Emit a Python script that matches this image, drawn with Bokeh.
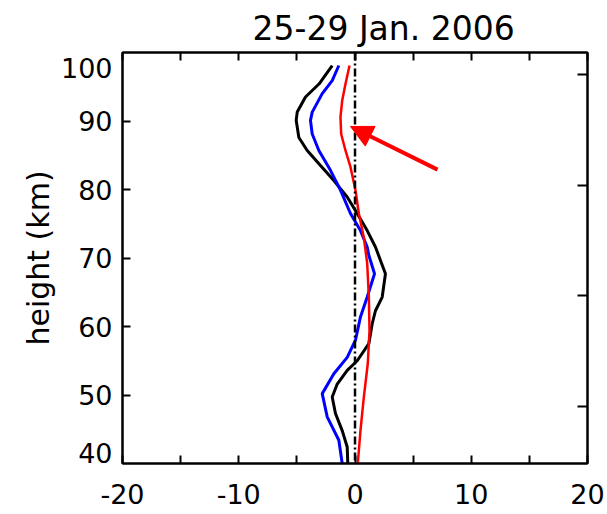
from bokeh.plotting import figure
from bokeh.models import Range1d, LinearAxis, FixedTicker, Span, Arrow, NormalHead, Title
from bokeh.embed import file_html
from bokeh.resources import INLINE

TITLE = "25-29 Jan. 2006"
Y_LABEL = "height (km)"

x_ticks = [-20, -15, -10, -5, 0, 5, 10, 15, 20]
x_tick_labels = {-20: "-20", -15: "", -10: "-10", -5: "", 0: "0", 5: "", 10: "10", 15: "", 20: "20"}
y_ticks = [50, 60, 70, 80, 90]
# label positions: end labels pulled inside the frame, as in the reference
y_label_pos = [41.5, 50, 60, 70, 80, 90, 97.8]
y_label_text = {41.5: "40", 50: "50", 60: "60", 70: "70", 80: "80", 90: "90", 97.8: "100"}
right_ticks = [48.3, 64.5, 80.6, 96.8]

black_h = [98.1, 95.4, 93.5, 91.3, 90.1, 87.6, 85.7, 83.5, 81.3, 78.9, 76.5, 74.0, 71.6,
           67.7, 64.3, 62.3, 60.4, 57.5, 55.0, 53.6, 51.6, 49.7, 47.3, 44.8, 42.4, 40.0]
black_x = [-1.96, -3.1, -4.26, -4.97, -5.06, -4.83, -4.11, -2.97, -1.82, -0.67, 0.19, 1.05, 1.76,
           2.62, 2.34, 1.76, 1.48, 1.19, 0.19, -0.67, -1.53, -1.96, -1.68, -1.1, -0.67, -0.62]

blue_h = [98.1, 95.9, 94.0, 91.3, 90.1, 88.1, 85.7, 82.8, 79.9, 76.5, 74.0, 71.6, 70.4,
          67.7, 64.3, 61.4, 58.0, 55.5, 53.1, 50.2, 46.8, 43.4, 40.0]
blue_x = [-1.39, -1.96, -2.82, -3.68, -3.83, -3.68, -3.11, -2.11, -1.25, -0.39, 0.47, 1.05, 1.19,
          1.68, 1.05, 0.47, 0.04, -0.67, -1.82, -2.82, -2.39, -1.39, -1.1]

red_h = [98.1, 95.4, 93.0, 90.6, 88.1, 85.7, 83.3, 79.9, 76.5, 73.0, 69.2, 64.3, 59.4,
         54.6, 49.7, 44.8, 40.0]
red_x = [-0.47, -0.82, -1.1, -1.25, -1.19, -0.82, -0.39, 0.04, 0.33, 0.76, 1.05, 1.19, 1.25,
         1.1, 0.76, 0.47, 0.24]

ARROW_TAIL = (7.1, 82.9)
ARROW_HEAD = (-0.39, 89.2)

FONT = "DejaVu Sans"

p = figure(width=607, height=514, x_range=Range1d(-20, 20), y_range=Range1d(40, 100),
           output_backend="svg", toolbar_location=None,
           min_border_left=122, min_border_right=20, min_border_top=52, min_border_bottom=51)
p.background_fill_color = "white"
p.border_fill_color = "white"
p.xgrid.visible = False
p.ygrid.visible = False
p.outline_line_color = "black"
p.outline_line_width = 2

p.title = Title(text=TITLE, align="left", offset=130, text_font=FONT,
                text_font_size="33px", text_font_style="normal", text_color="black",
                standoff=10)

# bottom axis
xa = p.xaxis[0]
xa.ticker = FixedTicker(ticks=x_ticks)
xa.major_label_overrides = dict(x_tick_labels)
xa.minor_tick_line_color = None
xa.axis_line_color = "black"
xa.axis_line_width = 2
xa.major_tick_in = 8
xa.major_tick_out = 0
xa.major_tick_line_width = 2
xa.major_tick_line_color = "black"
xa.major_label_text_font = FONT
xa.major_label_text_font_size = "27px"
xa.major_label_text_color = "black"
xa.major_label_standoff = 20

# left axis: tick marks only (inner)
ya = p.yaxis[0]
ya.ticker = FixedTicker(ticks=y_ticks)
ya.major_label_overrides = {t: "" for t in y_ticks}
ya.major_label_standoff = 0
ya.minor_tick_line_color = None
ya.axis_line_color = "black"
ya.axis_line_width = 2
ya.major_tick_in = 8
ya.major_tick_out = 0
ya.major_tick_line_width = 2
ya.major_tick_line_color = "black"

# left axis: labels (outer)
yl = LinearAxis(ticker=FixedTicker(ticks=y_label_pos), major_label_overrides=dict(y_label_text),
                major_tick_in=0, major_tick_out=0, minor_tick_line_color=None,
                axis_line_color=None, major_tick_line_color=None,
                major_label_text_font=FONT, major_label_text_font_size="27px",
                major_label_text_color="black", major_label_standoff=10,
                axis_label=Y_LABEL, axis_label_text_font=FONT, axis_label_text_font_size="30px",
                axis_label_text_font_style="normal", axis_label_text_color="black",
                axis_label_standoff=2)
p.add_layout(yl, "left")

top = LinearAxis(ticker=FixedTicker(ticks=x_ticks), major_label_overrides={t: "" for t in x_ticks},
                 major_tick_in=8, major_tick_out=0, major_tick_line_width=2,
                 minor_tick_line_color=None, axis_line_width=2, major_label_standoff=0)
p.add_layout(top, "above")
right = LinearAxis(ticker=FixedTicker(ticks=right_ticks),
                   major_label_overrides={t: "" for t in right_ticks},
                   major_tick_in=10, major_tick_out=0, major_tick_line_width=2,
                   minor_tick_line_color=None, axis_line_width=2, major_label_standoff=0)
p.add_layout(right, "right")

p.add_layout(Span(location=0, dimension="height", line_color="black", line_width=2.5,
                  line_dash="8 3 2 3"))

p.line(black_x, black_h, line_color="black", line_width=3)
p.line(blue_x, blue_h, line_color="blue", line_width=3)
p.line(red_x, red_h, line_color="red", line_width=2.5)

p.add_layout(Arrow(x_start=ARROW_TAIL[0], y_start=ARROW_TAIL[1],
                   x_end=ARROW_HEAD[0], y_end=ARROW_HEAD[1],
                   line_color="red", line_width=4,
                   end=NormalHead(size=22, fill_color="red", line_color="red")))

open("out.html", "w").write(file_html(p, INLINE))
